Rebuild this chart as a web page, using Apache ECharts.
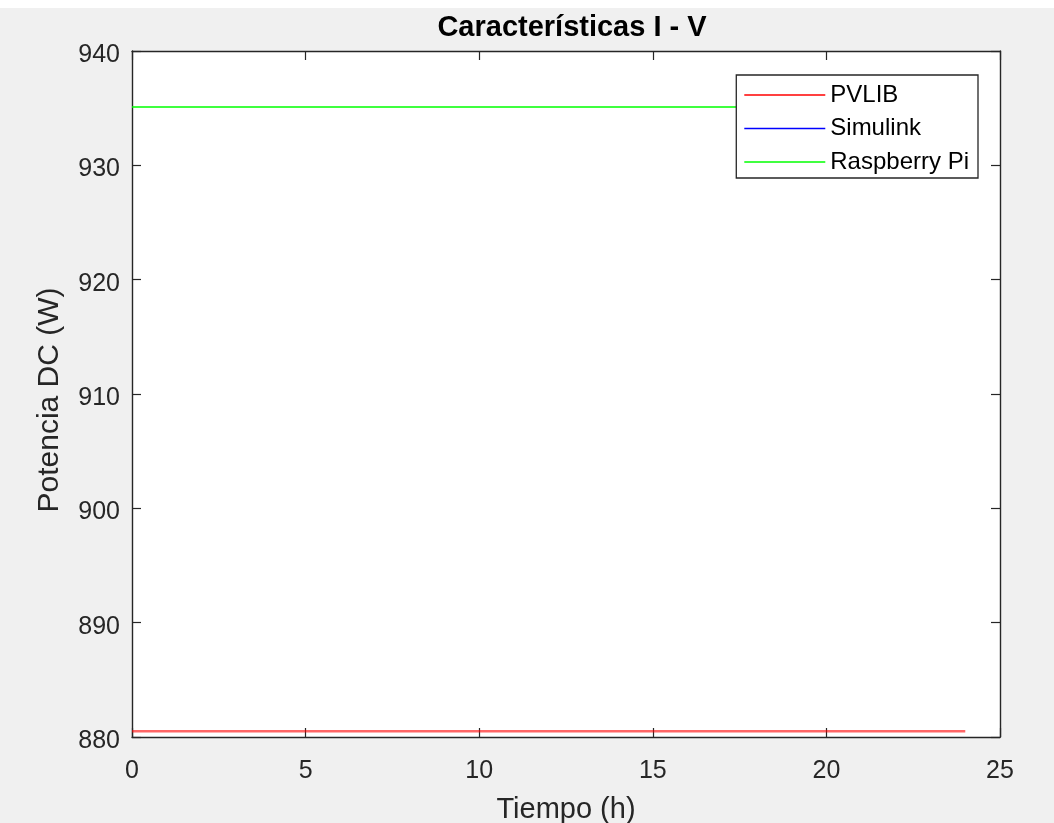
<!DOCTYPE html>
<html><head><meta charset="utf-8">
<script src="https://cdn.jsdelivr.net/npm/echarts@6/dist/echarts.min.js"></script>
<style>html,body{margin:0;padding:0;background:#f0f0f0}#c{width:1054px;height:823px}</style>
</head><body><div id="c"></div>
<script>
const hours = [0,1,2,3,4,5,6,7,8,9,10,11,12,13,14,15,16,17,18,19,20,21,22,23,24];
const pvlib = [880.5,880.5,880.5,880.5,880.5,880.5,880.5,880.5,880.5,880.5,880.5,880.5,880.5,880.5,880.5,880.5,880.5,880.5,880.5,880.5,880.5,880.5,880.5,880.5,880.5];
const simulink = [];
const raspberry = [935.1,935.1,935.1,935.1,935.1,935.1,935.1,935.1,935.1,935.1,935.1,935.1,935.1,935.1,935.1,935.1,935.1,935.1,935.1,935.1,935.1,935.1,935.1,935.1,935.1];
const xTicks = [0,5,10,15,20,25];
const yTicks = [880,890,900,910,920,930,940];

const font = 'Liberation Sans, Arial, sans-serif';
const axCol = '#262626';
const chart = echarts.init(document.getElementById('c'));
const pairs = a => a.map((v,i)=>[hours[i], v]);
const baseX = {type:'value', min:0, max:25, interval:5,
  axisLine:{show:true, onZero:false, lineStyle:{color:axCol, width:1.4}},
  axisTick:{show:true, inside:true, length:9, lineStyle:{color:axCol, width:1.2}},
  splitLine:{show:false}};
const baseY = {type:'value', min:880, max:940, interval:10,
  axisLine:{show:true, onZero:false, lineStyle:{color:axCol, width:1.4}},
  axisTick:{show:true, inside:true, length:9, lineStyle:{color:axCol, width:1.2}},
  splitLine:{show:false}};
chart.setOption({
  backgroundColor:'#f0f0f0',
  animation:false,
  graphic:[{type:'rect', left:0, top:0, shape:{width:1054, height:8}, style:{fill:'#ffffff'}, z:-1}],
  title:{text:'Características I - V', left:567, textAlign:'center', top:8,
    textStyle:{fontFamily:font, fontWeight:'bold', fontSize:29, color:'#000'}},
  grid:{left:132, right:54, top:51, bottom:86, show:true, backgroundColor:'#ffffff', borderWidth:0,
    containLabel:false, outerBoundsMode:'none'},
  xAxis:[
    Object.assign({}, baseX, {position:'bottom', name:'Tiempo (h)', nameLocation:'middle', nameGap:58,
      nameTextStyle:{fontFamily:font, fontSize:29, color:axCol},
      axisLabel:{show:true, margin:22, fontFamily:font, fontSize:25, color:axCol,
        formatter:v=>xTicks.includes(v)?String(v):''}}),
    Object.assign({}, baseX, {position:'top', axisLabel:{show:false}})
  ],
  yAxis:[
    Object.assign({}, baseY, {position:'left', name:'Potencia DC (W)', nameLocation:'middle', nameGap:67,
      nameTextStyle:{fontFamily:font, fontSize:30, color:axCol, padding:[0,12,0,0]},
      axisLabel:{show:true, margin:12, fontFamily:font, fontSize:25, color:axCol, verticalAlign:'top', lineHeight:8,
        formatter:v=>yTicks.includes(v)?String(v):''}}),
    Object.assign({}, baseY, {position:'right', axisLabel:{show:false}})
  ],
  legend:{orient:'vertical', right:76, top:75, itemWidth:81, itemHeight:14, itemGap:9.5,
    padding:[8,9,4,8], backgroundColor:'#ffffff', borderColor:axCol, borderWidth:1.3,
    textStyle:{fontFamily:font, fontSize:24, lineHeight:24, color:'#000'},
    icon:'path://M0,6.3L81,6.3L81,7.7L0,7.7Z',
    data:['PVLIB','Simulink','Raspberry Pi']},
  series:[
    {name:'PVLIB', type:'line', data:pairs(pvlib), showSymbol:false, symbol:'none',
      color:'#ff0000', lineStyle:{color:'#ff0000', width:2.5, opacity:0.6}},
    {name:'Simulink', type:'line', data:pairs(simulink), showSymbol:false, symbol:'none',
      color:'#0000ff', lineStyle:{color:'#0000ff', width:1.5}},
    {name:'Raspberry Pi', type:'line', data:pairs(raspberry), showSymbol:false, symbol:'none', z:1,
      color:'#00ff00', lineStyle:{color:'#00ff00', width:1.5}}
  ]
});
</script></body></html>
